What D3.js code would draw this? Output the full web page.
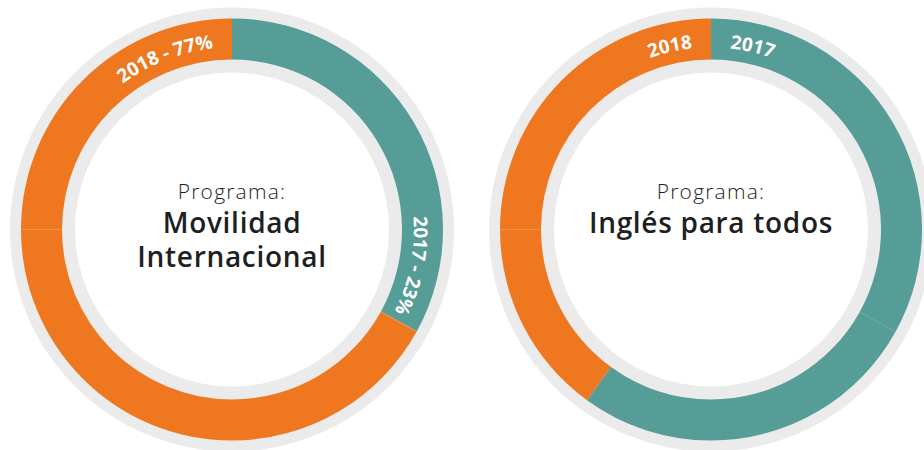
<!DOCTYPE html>
<html>
<head>
<meta charset="utf-8">
<script src="https://cdn.jsdelivr.net/npm/d3@7"></script>
<style>
	body{ margin:0; background:#fff; }
	svg{ display:block; }
	.centerTitle{ font-family:"Open Sans", sans-serif; fill:#1f1f1f; text-anchor:middle; }
	.sliceLabel{ font-family:"Open Sans", sans-serif; font-weight:700; fill:#fff; }
</style>
</head>
<body>
<svg id="chart" width="924" height="450"></svg>
<script>
// data (arc shares as drawn, labels as printed)
const years = ["2017", "2018"];
const sliceColors = ["#569c97", "#ee771f"];
const movilidadShares = [33, 67];
const inglesShares = [60, 40];
const movilidadLabels = ["2017 - 23%", "2018 - 77%"];
const inglesLabels = ["2017", "2018"];
const movilidadTitle = ["Movilidad", "Internacional"];
const inglesTitle = ["Inglés para todos"];
const seamDegrees = [119, 180, 270];

const charts = [
	{id:"movilidad", cx:232, shares:movilidadShares, labels:movilidadLabels, title:movilidadTitle,
		placement:[{anchor:"end", pad:2}, {anchor:"end", pad:6}]},
	{id:"ingles", cx:711, shares:inglesShares, labels:inglesLabels, title:inglesTitle,
		placement:[{anchor:"start", pad:6}, {anchor:"end", pad:6}]}
];

const svg = d3.select("#chart"),
	cy = 229.5,
	greyOuter = 222,
	greyInner = 157,
	ringOuter = 211,
	ringInner = 170,
	labelRadius = 182,
	toRad = Math.PI/180;

charts.forEach(drawDonut);

function drawDonut(chart){
	let g = svg.append("g").attr("class", chart.id)
			.attr("transform", "translate(" + chart.cx + "," + cy + ")"),
		pie = d3.pie().sort(null).value(function(d){ return d; }),
		slices = pie(chart.shares),
		ring = d3.arc().innerRadius(ringInner).outerRadius(ringOuter),
		pieces = [];

	// grey background band
	g.append("path")
		.attr("d", d3.arc().innerRadius(greyInner).outerRadius(greyOuter)({startAngle:0, endAngle:2*Math.PI}))
		.attr("fill", "#ebebeb");

	// each slice is drawn in parts, split at the seams seen in the picture
	slices.forEach(function(s, i){
		let cuts = seamDegrees.map(function(a){ return a*toRad; })
			.filter(function(a){ return a > s.startAngle + 1e-6 && a < s.endAngle - 1e-6; }),
			bounds = [s.startAngle].concat(cuts, [s.endAngle]);
		for(let k=0; k<bounds.length-1; k++){
			pieces.push({startAngle:bounds[k], endAngle:bounds[k+1], index:i});
		}
	});

	g.selectAll("path.slice")
		.data(pieces)
		.enter()
		.append("path")
		.attr("class", "slice")
		.attr("d", ring)
		.attr("fill", function(d){ return sliceColors[d.index]; });

	// clockwise circle for the curved labels
	let r = labelRadius,
		pathId = chart.id + "-labelPath";
	g.append("path")
		.attr("id", pathId)
		.attr("d", "M0," + (-r) + " A" + r + "," + r + " 0 1 1 0," + r + " A" + r + "," + r + " 0 1 1 0," + (-r))
		.attr("fill", "none");

	g.selectAll("text.sliceLabel")
		.data(slices)
		.enter()
		.append("text")
		.attr("class", "sliceLabel")
		.attr("font-size", "19px")
		.append("textPath")
		.attr("href", "#" + pathId)
		.attr("text-anchor", function(d, i){ return chart.placement[i].anchor; })
		.attr("startOffset", function(d, i){
			let p = chart.placement[i],
				a = p.anchor === "end" ? d.endAngle - p.pad*toRad : d.startAngle + p.pad*toRad;
			return r*a;
		})
		.text(function(d, i){ return chart.labels[i]; });

	// centre titles
	g.append("text")
		.attr("class", "centerTitle")
		.attr("y", 199 - cy)
		.attr("font-size", "21px")
		.attr("font-weight", 300)
		.attr("letter-spacing", "1.2px")
		.attr("fill", "#333")
		.text("Programa:");

	g.selectAll("text.titleLine")
		.data(chart.title)
		.enter()
		.append("text")
		.attr("class", "centerTitle titleLine")
		.attr("y", function(d, i){ return 233 - cy + i*34; })
		.attr("font-size", "28px")
		.attr("font-weight", 600)
		.attr("letter-spacing", "0.7px")
		.text(function(d){ return d; });
}
</script>
</body>
</html>
